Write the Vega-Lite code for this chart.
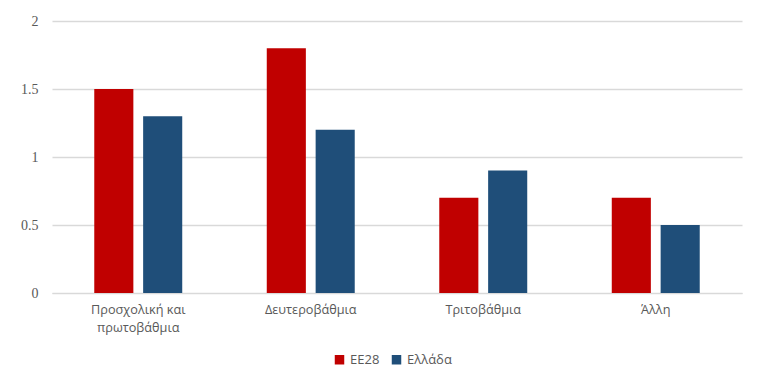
{
  "$schema": "https://vega.github.io/schema/vega-lite/v6.json",
  "width": 690,
  "height": 272,
  "autosize": "none",
  "padding": {"left": 52, "top": 21, "right": 25, "bottom": 95},
  "background": "white",
  "config": {
    "view": {"stroke": null},
    "font": "Open Sans"
  },
  "data": {
    "values": [
      {"category": "Προσχολική και πρωτοβάθμια", "series": "ΕΕ28", "value": 1.5},
      {"category": "Προσχολική και πρωτοβάθμια", "series": "Ελλάδα", "value": 1.3},
      {"category": "Δευτεροβάθμια", "series": "ΕΕ28", "value": 1.8},
      {"category": "Δευτεροβάθμια", "series": "Ελλάδα", "value": 1.2},
      {"category": "Τριτοβάθμια", "series": "ΕΕ28", "value": 0.7},
      {"category": "Τριτοβάθμια", "series": "Ελλάδα", "value": 0.9},
      {"category": "Άλλη", "series": "ΕΕ28", "value": 0.7},
      {"category": "Άλλη", "series": "Ελλάδα", "value": 0.5}
    ]
  },
  "mark": {"type": "bar"},
  "encoding": {
    "x": {
      "field": "category",
      "type": "nominal",
      "sort": null,
      "scale": {"paddingInner": 0.49, "paddingOuter": 0.245},
      "axis": {
        "title": null,
        "labelAngle": 0,
        "labelColor": "#595959",
        "labelFontSize": 12.7,
        "labelPadding": 10,
        "labelLineHeight": 18,
        "ticks": false,
        "domainColor": "#d9d9d9",
        "labelExpr": "datum.label == 'Προσχολική και πρωτοβάθμια' ? ['Προσχολική και', 'πρωτοβάθμια'] : datum.label"
      }
    },
    "xOffset": {
      "field": "series",
      "type": "nominal",
      "sort": ["ΕΕ28", "Ελλάδα"],
      "scale": {"paddingInner": 0.2, "paddingOuter": 0}
    },
    "y": {
      "field": "value",
      "type": "quantitative",
      "scale": {"domain": [0, 2], "nice": false},
      "axis": {
        "title": null,
        "values": [0, 0.5, 1, 1.5, 2],
        "format": "~g",
        "labelColor": "#595959",
        "labelFont": "Liberation Serif",
        "labelFontSize": 14,
        "labelPadding": 14,
        "ticks": false,
        "domain": false,
        "gridColor": "#d9d9d9",
        "gridWidth": 1.3
      }
    },
    "color": {
      "field": "series",
      "type": "nominal",
      "sort": ["ΕΕ28", "Ελλάδα"],
      "scale": {"domain": ["ΕΕ28", "Ελλάδα"], "range": ["#C00000", "#1F4E79"]},
      "legend": {
        "title": null,
        "orient": "none",
        "legendX": 281,
        "legendY": 332,
        "direction": "horizontal",
        "symbolType": "square",
        "symbolSize": 90,
        "symbolStrokeWidth": 0,
        "symbolOffset": 0,
        "labelColor": "#595959",
        "labelFontSize": 13,
        "labelOffset": 4,
        "columnPadding": 10
      }
    }
  }
}
